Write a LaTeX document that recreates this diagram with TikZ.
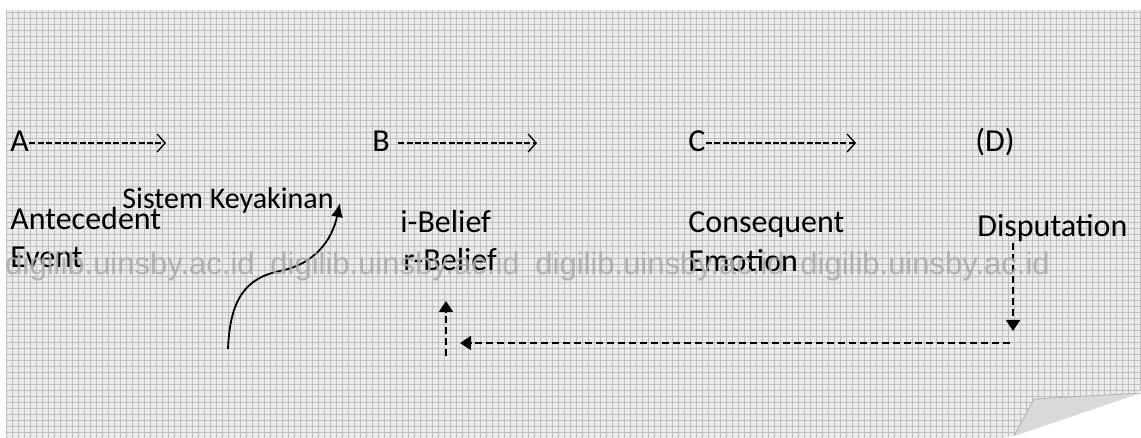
\documentclass[tikz,border=0pt]{standalone}
\usepackage{fontspec}
\setmainfont{Carlito}
\newfontfamily\wmfont{Liberation Sans}
\usetikzlibrary{arrows.meta}

\tikzset{
  lbl/.style={anchor=base west, inner sep=0pt, font=\fontsize{16}{19}\selectfont},
  typed/.style={dash pattern=on 3pt off 1.2pt, line width=0.65pt,
    -{Straight Barb[length=4pt,width=9pt]}},
  fb/.style={dash pattern=on 3.5pt off 2pt, line width=0.9pt,
    -{Triangle[length=5.5pt,width=7pt]}},
  wm/.style={anchor=base west, inner sep=0pt, font=\wmfont\fontsize{15.5}{18}\selectfont,
    text=gray!65, opacity=0.9}
}

\begin{document}
\begin{tikzpicture}[x=0.5pt,y=-0.5pt]
  \useasboundingbox (0,0) rectangle (1141,438);
  % scanned paper
  \fill[gray!16] (6,10) rectangle (1141,438);
  \draw[step=3pt,gray!50,line width=0.35pt] (6,10) grid (1141,438);
  \fill[white] (1005,438) -- (1141,391) -- (1141,438) -- cycle;
  \filldraw[fill=gray!30,draw=gray!60] (1014,436) -- (1034,399) -- (1141,393);

  % top row
  \node[lbl] (evA) at (10,152) {A};
  \node[lbl] (evB) at (372,152) {B};
  \node[lbl] (evC) at (688,152) {C};
  \node[lbl] (evD) at (975,152) {(D)};
  \coordinate (tipA) at (166,143);
  \coordinate (tipB) at (537,143);
  \coordinate (tipC) at (856,143);
  \draw[typed] (evA.east |- tipA) -- (tipA);
  \draw[typed] ([xshift=4pt]evB.east |- tipB) -- (tipB);
  \draw[typed] (evC.east |- tipC) -- (tipC);

  % labels
  \node[lbl] (ante) at (10,230) {Antecedent};
  \node[lbl] (event) at (10,268) {Event};
  \node[lbl,font=\fontsize{15}{18}\selectfont] (sk) at (122,209) {Sistem Keyakinan};
  \node[lbl] (ibel) at (400,233) {i-Belief};
  \node[lbl] (rbel) at (403,271) {r-Belief};
  \node[lbl] (cons) at (688,233) {Consequent};
  \node[lbl] (emo) at (688,272) {Emotion};
  \node[lbl] (disp) at (977,237) {Disputation};

  % curved arrow
  \coordinate (footS) at (228,349);
  \coordinate (skTip) at (340,203);
  \draw[line width=0.9pt,-{Latex[length=7pt,width=6pt]}] (footS)
    .. controls (230,300) and (245,278) .. (280,271)
    .. controls (315,264) and (332,240) .. (skTip);

  % disputation loop
  \coordinate (dFoot) at (1013,331);
  \coordinate (loopR) at (1010,343);
  \coordinate (loopL) at (460,343);
  \coordinate (upFoot) at (446,356);
  \coordinate (upTip) at (446,301);
  \draw[fb] (disp.south west -| dFoot) -- (dFoot);
  \draw[fb] (loopR) -- (loopL);
  \draw[fb] (upFoot) -- (upTip);

  % watermark
  \foreach \k in {0,...,3}
    \node[wm] (wm\k) at (5+265*\k,275) {digilib.uinsby.ac.id};
\end{tikzpicture}
\end{document}
